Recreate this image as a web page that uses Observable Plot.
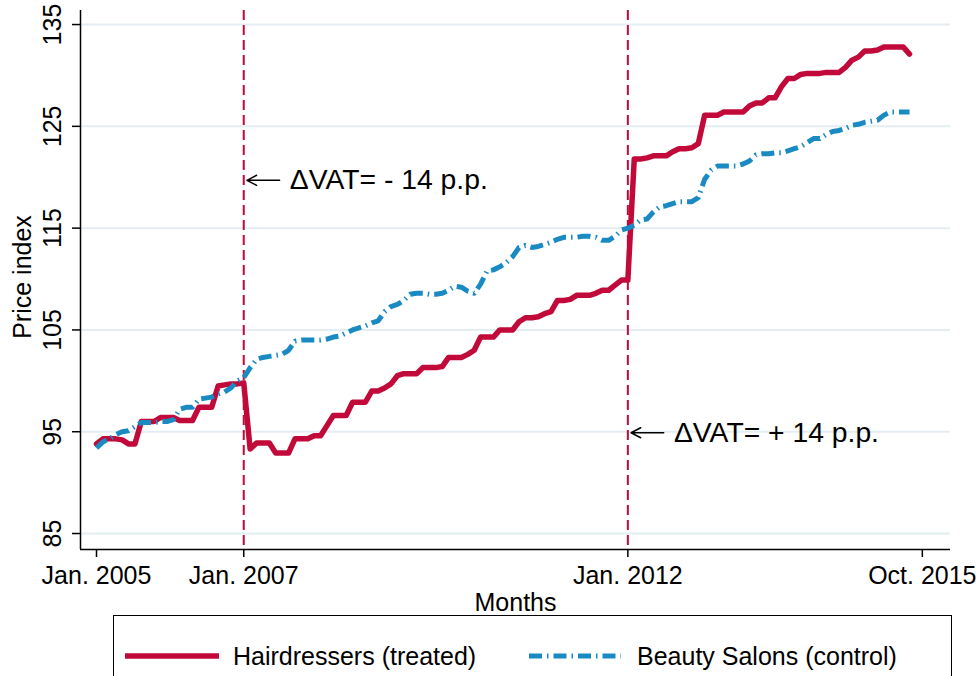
<!DOCTYPE html>
<html><head><meta charset="utf-8">
<script src="https://cdn.jsdelivr.net/npm/d3@7"></script>
<script src="https://cdn.jsdelivr.net/npm/@observablehq/plot@0.6"></script>
<style>
body{margin:0;background:#fff;font-family:"Liberation Sans",Arial,Helvetica,sans-serif;}
#wrap{position:relative;width:976px;height:676px;overflow:hidden;background:#fff;}
#legend{position:absolute;left:113px;top:615px;width:839px;height:80px;border:1.5px solid #000;box-sizing:border-box;}
#legend svg{position:absolute;left:0;top:0;}
</style></head>
<body><div id="wrap"><div id="chart"></div><div id="legend"></div></div>
<script>
// Series: monthly price index, first value = Jan. 2005
const hairdressers = [
  93.8, 94.3, 94.3, 94.3, 94.2, 93.8, 93.8, 96.0, 96.0, 96.0, 96.4, 96.4,
  96.4, 96.1, 96.1, 96.1, 97.4, 97.4, 97.4, 99.5, 99.6, 99.7, 99.7, 99.8,
  93.3, 93.9, 93.9, 93.9, 92.9, 92.9, 92.9, 94.3, 94.3, 94.3, 94.6, 94.6,
  95.6, 96.6, 96.6, 96.6, 97.9, 97.9, 97.9, 99.0, 99.0, 99.3, 99.7, 100.5,
  100.7, 100.7, 100.7, 101.3, 101.3, 101.3, 101.4, 102.3, 102.3, 102.3, 102.6, 103.0,
  104.3, 104.3, 104.3, 105.0, 105.0, 105.0, 105.8, 106.2, 106.2, 106.3, 106.6, 106.8,
  107.9, 107.9, 108.0, 108.4, 108.4, 108.4, 108.6, 108.9, 108.9, 109.4, 109.9, 109.9,
  121.8, 121.8, 121.9, 122.1, 122.1, 122.1, 122.5, 122.8, 122.8, 122.9, 123.3, 126.1,
  126.1, 126.1, 126.4, 126.4, 126.4, 126.4, 127.0, 127.3, 127.3, 127.8, 127.8, 128.9,
  129.7, 129.7, 130.1, 130.2, 130.2, 130.2, 130.3, 130.3, 130.3, 130.8, 131.5, 131.8,
  132.4, 132.4, 132.5, 132.8, 132.8, 132.8, 132.8, 132.1
];
const beautySalons = [
  93.4, 94.0, 94.3, 94.7, 95.0, 95.1, 95.5, 95.9, 95.9, 95.9, 96.0, 96.0,
  96.2, 97.2, 97.4, 97.4, 98.2, 98.3, 98.4, 98.7, 98.9, 99.3, 100.0, 100.3,
  101.3, 102.1, 102.3, 102.4, 102.5, 102.6, 103.0, 103.9, 104.0, 104.0, 104.0, 104.0,
  104.1, 104.3, 104.4, 104.7, 105.0, 105.2, 105.4, 105.7, 105.9, 106.8, 107.3, 107.5,
  107.9, 108.5, 108.6, 108.6, 108.5, 108.5, 108.6, 108.9, 109.3, 109.2, 108.8, 108.6,
  109.5, 110.8, 110.9, 111.2, 111.6, 112.2, 113.1, 113.3, 113.1, 113.2, 113.4, 113.6,
  113.9, 114.1, 114.1, 114.1, 114.2, 114.2, 114.1, 113.8, 113.8, 114.2, 114.8, 115.0,
  115.3, 115.8, 115.9, 116.6, 117.1, 117.2, 117.4, 117.6, 117.6, 117.6, 118.0, 119.8,
  120.7, 121.1, 121.1, 121.1, 121.1, 121.3, 121.6, 122.2, 122.3, 122.3, 122.4, 122.4,
  122.6, 122.8, 123.0, 123.4, 123.8, 123.8, 124.2, 124.5, 124.6, 124.8, 125.1, 125.2,
  125.4, 125.5, 125.6, 126.1, 126.4, 126.4, 126.4, 126.4
];
// x ticks (month index from Jan. 2005) and labels
const xTickMonths = [0, 23, 83, 129];
const xTickLabels = ["Jan. 2005", "Jan. 2007", "Jan. 2012", "Oct. 2015"];
const yTicks = [85, 95, 105, 115, 125, 135];
// VAT change events
const vatMonths = [23, 83];
const vatLevels = [119.7, 94.9];
const vatLabels = ["ΔVAT= - 14 p.p.", "ΔVAT= + 14 p.p."];
const seriesNames = ["Hairdressers (treated)", "Beauty Salons (control)"];

const red = "#c20a3a", blue = "#1a8bc2";
const font = "Liberation Sans, Arial, Helvetica, sans-serif";
const blueDash = "13,5,1.5,5";
const hairData = hairdressers.map((v, i) => ({m: i, v}));
const beautyData = beautySalons.map((v, i) => ({m: i, v}));
const annotations = vatMonths.map((m, i) => ({m, level: vatLevels[i], label: vatLabels[i]}));
const xDomain = [-2.5, 133.4], yDomain = [83.43, 136.38];
const tickLabel = new Map(xTickMonths.map((m, i) => [m, xTickLabels[i]]));

const chart = Plot.plot({
  width: 976, height: 605,
  marginLeft: 80, marginRight: 26, marginTop: 10, marginBottom: 56,
  style: {fontFamily: font, fontSize: "25px", color: "#000", background: "#fff", overflow: "visible"},
  x: {domain: xDomain},
  y: {domain: yDomain},
  marks: [
    Plot.gridY(yTicks, {stroke: "#e4edf1", strokeOpacity: 1, strokeWidth: 2}),
    Plot.ruleX(vatMonths, {stroke: red, strokeWidth: 2, strokeDasharray: "10,5"}),
    Plot.line(hairData, {x: "m", y: "v", stroke: red, strokeWidth: 5.5, strokeLinejoin: "round", strokeLinecap: "round"}),
    Plot.line(beautyData, {x: "m", y: "v", stroke: blue, strokeWidth: 5, strokeDasharray: blueDash, strokeLinecap: "butt"}),
    Plot.arrow(annotations, {x1: d => d.m + 5.6, x2: d => d.m + 0.5, y1: "level", y2: "level", stroke: "#000", strokeWidth: 1.5, headLength: 13, headAngle: 55}),
    Plot.text(annotations, {x: d => d.m + 7.2, y: "level", text: "label", textAnchor: "start", fontSize: 28.3, fill: "#000"}),
    Plot.ruleX([xDomain[0]], {stroke: "#000", strokeWidth: 1.5}),
    Plot.ruleY([yDomain[0]], {stroke: "#000", strokeWidth: 1.5}),
    Plot.axisX({ticks: xTickMonths, tickFormat: d => tickLabel.get(d), tickSize: 8, tickPadding: 9, label: null, fontSize: 25, strokeWidth: 1.5}),
    Plot.axisY({ticks: yTicks, tickRotate: -90, tickSize: 8, tickPadding: 12, label: null, fontSize: 25, strokeWidth: 1.5}),
    Plot.text(["Months"], {frameAnchor: "bottom", dy: 61, textAnchor: "middle", text: d => d, fontSize: 25, fill: "#000"}),
    Plot.text(["Price index"], {frameAnchor: "left", dx: -58, dy: -3, rotate: -90, textAnchor: "middle", text: d => d, fontSize: 25, fill: "#000"})
  ]
});
document.getElementById("chart").appendChild(chart);

// legend
const lg = d3.select("#legend").append("svg").attr("width", 839).attr("height", 80);
const items = [
  {x: 11, w: 94, tx: 119, color: red, width: 5.5, dash: null},
  {x: 415, w: 92, tx: 523, color: blue, width: 5, dash: blueDash}
];
items.forEach((it, i) => {
  lg.append("line").attr("x1", it.x).attr("x2", it.x + it.w).attr("y1", 40).attr("y2", 40)
    .attr("stroke", it.color).attr("stroke-width", it.width).attr("stroke-dasharray", it.dash);
  lg.append("text").attr("x", it.tx).attr("y", 49).attr("font-family", font).attr("font-size", 25)
    .attr("fill", "#000").text(seriesNames[i]);
});
</script>
</body></html>
